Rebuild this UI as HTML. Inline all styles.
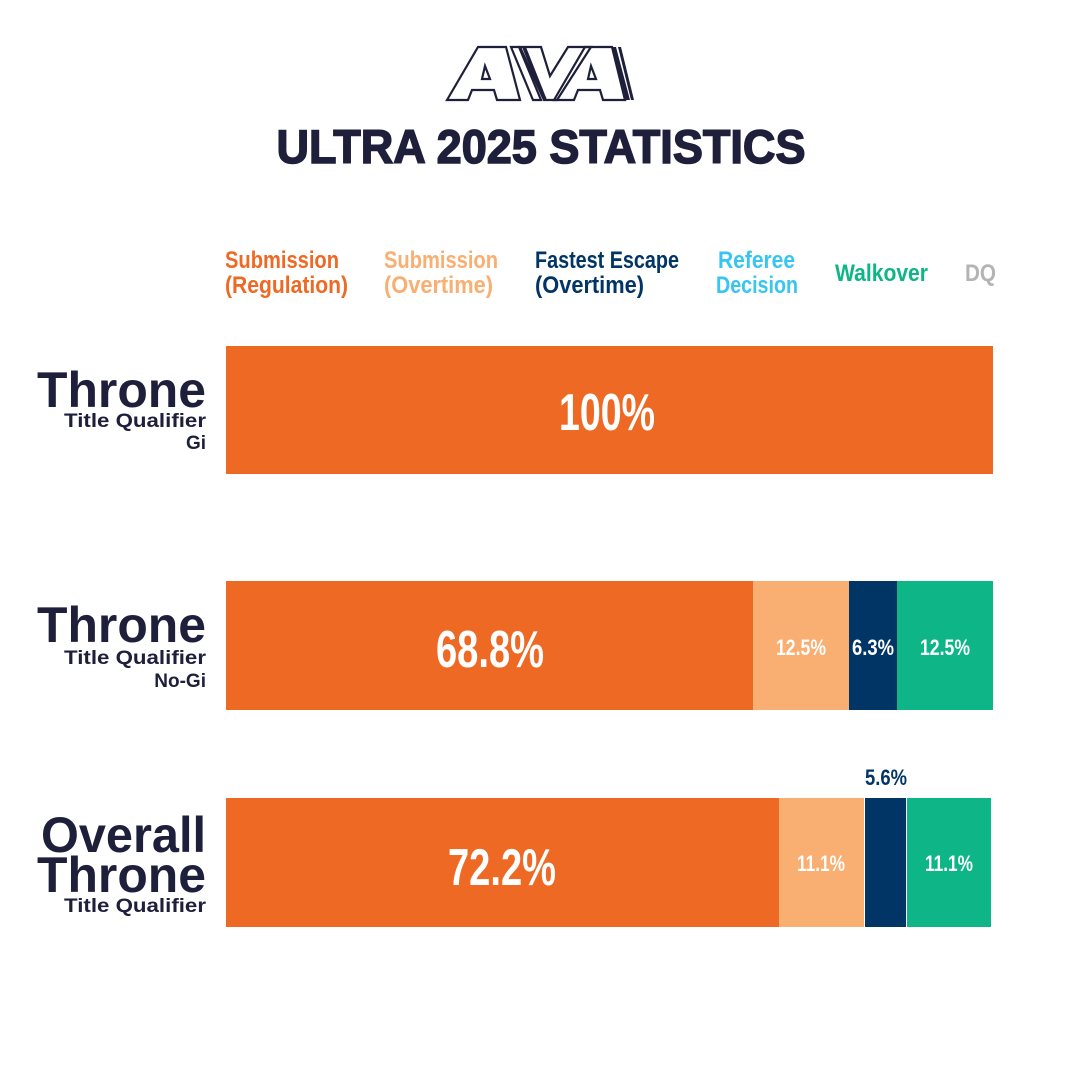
<!DOCTYPE html>
<html><head><meta charset="utf-8"><style>
html,body{margin:0;padding:0;background:#fff;}
svg{display:block;}
.c{font-family:"Liberation Sans Narrow","Liberation Sans",sans-serif;font-weight:bold;}
.h{font-family:"Liberation Sans",sans-serif;font-weight:900;}
</style></head><body>
<svg width="1080" height="1080" viewBox="0 0 1080 1080" xmlns="http://www.w3.org/2000/svg">
<rect width="1080" height="1080" fill="#fff"/>
<g fill="none" stroke="#1e1f3a" stroke-width="2.2" stroke-linejoin="miter">
  <polygon points="447,100 478,47 506,47 520,100 497,100 494,90 472,90 468,100"/>
  <polygon points="482,79 485,66 490,79"/>
  <polygon points="511,47 519,47 541,100 533,100"/>
  <polygon points="520,47 541,47 550,76 568,47 591,47 557,100 544,100"/>
  <polygon points="554,100 585,47 612,47 625,100 603,100 600,90 578,90 574,100"/>
  <polygon points="588,79 591,66 596,79"/>
</g>
<g fill="#1e1f3a">
  <polygon points="522,47 526,47 547,100 543,100"/>
  <polygon points="612,47 616,47 630,100 626,100"/>
  <polygon points="618,47 621,47 634,100 631,100"/>
</g>
<text class="h" x="541" y="163" font-size="47" text-anchor="middle" fill="#1e1f3a" stroke="#1e1f3a" stroke-width="1.5" textLength="529" lengthAdjust="spacingAndGlyphs">ULTRA 2025 STATISTICS</text>

<g class="c" font-size="24">
  <text x="225" y="268" fill="#ee6a24" textLength="114" lengthAdjust="spacingAndGlyphs">Submission</text>
  <text x="225" y="293" fill="#ee6a24" textLength="123" lengthAdjust="spacingAndGlyphs">(Regulation)</text>
  <text x="384" y="268" fill="#f9ae72" textLength="114" lengthAdjust="spacingAndGlyphs">Submission</text>
  <text x="384" y="293" fill="#f9ae72" textLength="109" lengthAdjust="spacingAndGlyphs">(Overtime)</text>
  <text x="535" y="268" fill="#003566" textLength="144" lengthAdjust="spacingAndGlyphs">Fastest Escape</text>
  <text x="535" y="293" fill="#003566" textLength="109" lengthAdjust="spacingAndGlyphs">(Overtime)</text>
  <text x="718" y="268" fill="#38c5f0" textLength="77" lengthAdjust="spacingAndGlyphs">Referee</text>
  <text x="716" y="293" fill="#38c5f0" textLength="82" lengthAdjust="spacingAndGlyphs">Decision</text>
  <text x="835" y="281" fill="#0db587" textLength="93" lengthAdjust="spacingAndGlyphs">Walkover</text>
  <text x="965" y="281" fill="#b4b4b4" textLength="31" lengthAdjust="spacingAndGlyphs">DQ</text>
</g>

<g fill="#1e1f3a" text-anchor="end">
  <text class="h" x="206" y="407" font-size="50" textLength="169" lengthAdjust="spacingAndGlyphs">Throne</text>
  <text class="c" x="206" y="427" font-size="19" textLength="142" lengthAdjust="spacingAndGlyphs">Title Qualifier</text>
  <text class="c" x="206" y="449" font-size="19">Gi</text>
  <text class="h" x="206" y="642" font-size="50" textLength="169" lengthAdjust="spacingAndGlyphs">Throne</text>
  <text class="c" x="206" y="664" font-size="19" textLength="142" lengthAdjust="spacingAndGlyphs">Title Qualifier</text>
  <text class="c" x="206" y="687" font-size="19">No-Gi</text>
  <text class="h" x="206" y="852" font-size="50" textLength="165" lengthAdjust="spacingAndGlyphs">Overall</text>
  <text class="h" x="206" y="892" font-size="50" textLength="169" lengthAdjust="spacingAndGlyphs">Throne</text>
  <text class="c" x="206" y="912" font-size="19" textLength="142" lengthAdjust="spacingAndGlyphs">Title Qualifier</text>
</g>

<rect x="226" y="346" width="767" height="128" fill="#ee6a24"/>
<rect x="226" y="581" width="527" height="129" fill="#ee6a24"/>
<rect x="753" y="581" width="96" height="129" fill="#f9ae72"/>
<rect x="849" y="581" width="48" height="129" fill="#003566"/>
<rect x="897" y="581" width="96" height="129" fill="#0db587"/>
<rect x="226" y="798" width="553" height="129" fill="#ee6a24"/>
<rect x="779" y="798" width="85" height="129" fill="#f9ae72"/>
<rect x="865" y="798" width="41" height="129" fill="#003566"/>
<rect x="907" y="798" width="84" height="129" fill="#0db587"/>

<g class="c" fill="#fff" text-anchor="middle">
  <text x="607" y="430" font-size="52" textLength="96" lengthAdjust="spacingAndGlyphs">100%</text>
  <text x="490" y="667" font-size="52" textLength="108" lengthAdjust="spacingAndGlyphs">68.8%</text>
  <text x="502" y="885" font-size="52" textLength="108" lengthAdjust="spacingAndGlyphs">72.2%</text>
  <text x="801" y="655" font-size="22" textLength="50" lengthAdjust="spacingAndGlyphs">12.5%</text>
  <text x="873" y="655" font-size="22" textLength="42" lengthAdjust="spacingAndGlyphs">6.3%</text>
  <text x="945" y="655" font-size="22" textLength="50" lengthAdjust="spacingAndGlyphs">12.5%</text>
  <text x="821" y="871" font-size="22" textLength="48" lengthAdjust="spacingAndGlyphs">11.1%</text>
  <text x="949" y="871" font-size="22" textLength="48" lengthAdjust="spacingAndGlyphs">11.1%</text>
  <text x="886" y="785" font-size="22" fill="#003566" textLength="42" lengthAdjust="spacingAndGlyphs">5.6%</text>
</g>
</svg>
</body></html>
